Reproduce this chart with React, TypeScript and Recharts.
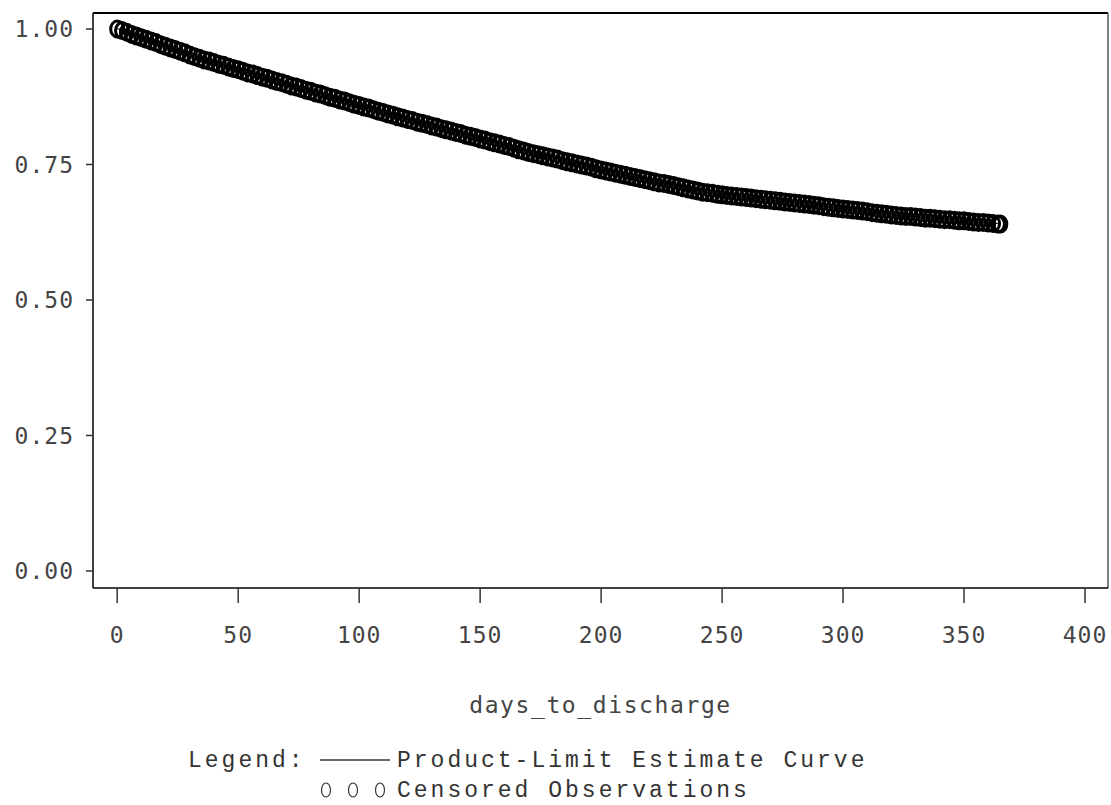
import React from 'react';
import { ComposedChart, Line, Scatter, XAxis, YAxis, ReferenceLine, Label } from 'recharts';

const days = [0,2,4,6,8,10,12,14,16,18,20,22,24,26,28,30,32,34,36,38,40,42,44,46,48,50,52,54,56,58,60,62,64,66,68,70,72,74,76,78,80,82,84,86,88,90,92,94,96,98,100,102,104,106,108,110,112,114,116,118,120,122,124,126,128,130,132,134,136,138,140,142,144,146,148,150,152,154,156,158,160,162,164,166,168,170,172,174,176,178,180,182,184,186,188,190,192,194,196,198,200,202,204,206,208,210,212,214,216,218,220,222,224,226,228,230,232,234,236,238,240,242,244,246,248,250,252,254,256,258,260,262,264,266,268,270,272,274,276,278,280,282,284,286,288,290,292,294,296,298,300,302,304,306,308,310,312,314,316,318,320,322,324,326,328,330,332,334,336,338,340,342,344,346,348,350,352,354,356,358,360,362,364,365];

const survival = [1.000,0.997,0.994,0.990,0.987,0.984,0.981,0.978,0.975,0.971,0.968,0.965,0.962,0.959,0.956,0.952,0.949,0.946,0.943,0.941,0.938,0.935,0.933,0.930,0.927,0.925,0.922,0.919,0.917,0.914,0.911,0.909,0.906,0.903,0.901,0.898,0.895,0.893,0.890,0.887,0.885,0.882,0.880,0.877,0.874,0.872,0.869,0.867,0.864,0.861,0.859,0.856,0.854,0.851,0.848,0.846,0.843,0.841,0.838,0.836,0.833,0.831,0.828,0.826,0.824,0.821,0.819,0.816,0.814,0.812,0.809,0.807,0.804,0.802,0.800,0.797,0.795,0.792,0.790,0.788,0.785,0.783,0.780,0.777,0.775,0.772,0.770,0.768,0.766,0.764,0.762,0.760,0.757,0.755,0.753,0.751,0.749,0.747,0.745,0.742,0.740,0.738,0.736,0.734,0.732,0.730,0.728,0.726,0.724,0.722,0.720,0.718,0.716,0.715,0.713,0.711,0.709,0.707,0.705,0.703,0.701,0.699,0.698,0.697,0.695,0.694,0.693,0.692,0.691,0.690,0.689,0.688,0.687,0.686,0.685,0.684,0.683,0.682,0.681,0.680,0.679,0.678,0.677,0.676,0.675,0.674,0.672,0.671,0.670,0.669,0.668,0.667,0.666,0.665,0.664,0.663,0.661,0.660,0.659,0.658,0.657,0.656,0.655,0.654,0.654,0.653,0.652,0.651,0.651,0.650,0.649,0.648,0.648,0.647,0.646,0.646,0.645,0.644,0.643,0.643,0.642,0.641,0.640,0.640];

const xTicks = [0, 50, 100, 150, 200, 250, 300, 350, 400];
const yTicks = [0, 0.25, 0.5, 0.75, 1.0];
const xTitle = 'days_to_discharge';
const legendTitle = 'Legend:';
const curveLabel = 'Product-Limit Estimate Curve';
const censoredLabel = 'Censored Observations';

const X_MIN = -10;
const X_MAX = 409.5;
const Y_MIN = -0.0314;
const Y_MAX = 1.0295;

const data = days.map((d, i) => ({ day: d, s: survival[i] }));

const tickFont = { fontFamily: '"DejaVu Sans Mono", monospace', fontSize: 23, fill: '#444', letterSpacing: 1 };
const legendStyle: React.CSSProperties = {
  fontFamily: "'Liberation Mono', 'Courier New', Courier, monospace",
  fontSize: 23,
  letterSpacing: 3,
  fill: '#333',
};

const Ring = (props: any) => {
  const { cx, cy } = props;
  if (cx == null || cy == null) return null;
  return <ellipse cx={cx} cy={cy} rx={6.5} ry={8} fill="none" stroke="#000" strokeWidth={3} />;
};

export default function App() {
  return (
    <div style={{ position: 'absolute', left: 0, top: 0, width: 1111, height: 805, background: '#fff' }}>
      <ComposedChart
        width={1111}
        height={805}
        data={data}
        margin={{ top: 13, right: 3, left: 0, bottom: 0 }}
      >
        <XAxis
          dataKey="day"
          type="number"
          domain={[X_MIN, X_MAX]}
          ticks={xTicks}
          allowDataOverflow
          height={217}
          tickSize={15}
          tickMargin={24}
          axisLine={{ stroke: '#000', strokeWidth: 1.5 }}
          tickLine={{ stroke: '#333', strokeWidth: 1.5 }}
          tick={tickFont}
        >
          <Label
            value={xTitle}
            position="insideTop"
            offset={109}
            style={{ fontFamily: '"DejaVu Sans Mono", monospace', fontSize: 23, fill: '#444', letterSpacing: 1.6 }}
          />
        </XAxis>
        <YAxis
          type="number"
          domain={[Y_MIN, Y_MAX]}
          ticks={yTicks}
          allowDataOverflow
          width={93}
          tickSize={7}
          tickMargin={12}
          axisLine={{ stroke: '#000', strokeWidth: 1.5 }}
          tickLine={{ stroke: '#333', strokeWidth: 1.5 }}
          tick={tickFont}
          tickFormatter={(v: number) => v.toFixed(2)}
        />
        <ReferenceLine y={Y_MAX} stroke="#000" strokeWidth={2} />
        <ReferenceLine x={X_MAX} stroke="#555" strokeWidth={1.5} />
        <Line
          type="stepAfter"
          dataKey="s"
          stroke="#000"
          strokeWidth={1}
          dot={false}
          isAnimationActive={false}
        />
        <Scatter dataKey="s" shape={<Ring />} isAnimationActive={false} />
      </ComposedChart>
      <svg
        width={1111}
        height={93}
        style={{ position: 'absolute', left: 0, top: 712 }}
      >
        <text x={188} y={55} style={legendStyle}>
          {legendTitle}
        </text>
        <line x1={320} x2={390} y1={48} y2={48} stroke="#333" strokeWidth={1.5} />
        <text x={397} y={55} style={legendStyle}>
          {curveLabel}
        </text>
        <ellipse cx={326} cy={78} rx={4.5} ry={7} fill="none" stroke="#333" strokeWidth={1.2} />
        <ellipse cx={353} cy={78} rx={4.5} ry={7} fill="none" stroke="#333" strokeWidth={1.2} />
        <ellipse cx={380} cy={78} rx={4.5} ry={7} fill="none" stroke="#333" strokeWidth={1.2} />
        <text x={397} y={85} style={legendStyle}>
          {censoredLabel}
        </text>
      </svg>
    </div>
  );
}
